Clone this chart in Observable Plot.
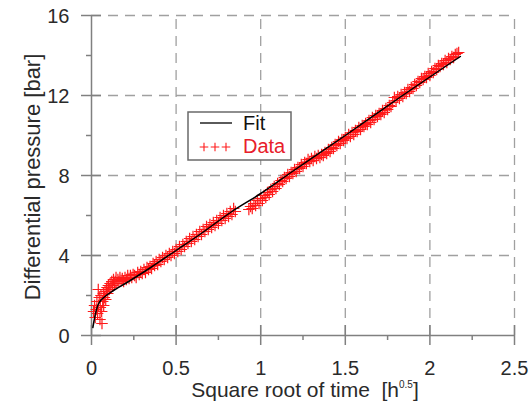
<!DOCTYPE html>
<html>
<head>
<meta charset="utf-8">
<script src="https://cdn.jsdelivr.net/npm/d3@7"></script>
<script src="https://cdn.jsdelivr.net/npm/@observablehq/plot@0.6"></script>
<style>
  html, body { margin: 0; padding: 0; background: #fff; }
  #chart svg { display: block; font-family: "Liberation Sans", Arial, sans-serif; }
</style>
</head>
<body>
<div id="chart"></div>
<script>
// ---- Data ----
const fitX = [0.008, 0.02, 0.035, 0.05, 0.08, 0.13, 0.2, 0.35, 0.5, 0.64, 0.83, 1.0, 1.17, 1.5, 1.83, 2.18];
const fitY = [0.4, 0.95, 1.45, 1.7, 1.95, 2.25, 2.6, 3.4, 4.25, 5.05, 6.2, 7.1, 8.1, 10.0, 11.95, 13.95];

const dataX = [
  0.012,0.018,0.022,0.028,0.032,0.036,0.04,0.042,0.046,0.05,0.052,0.056,0.06,0.062,0.066,0.07,0.072,0.076,0.08,0.084,0.088,
  0.092,0.096,0.1,0.105,0.11,0.115,0.12,0.125,0.13,0.135,0.14,0.145,0.15,0.156,0.162,0.168,0.175,0.182,0.19,0.198,0.206,0.214,0.222,0.23,0.238,0.246,
  0.255,0.264,0.273,0.282,0.291,0.3,0.31,0.319,0.328,0.337,0.346,0.355,0.364,0.373,0.382,0.391,0.4,0.41,0.42,0.43,0.44,0.45,0.46,0.47,0.48,0.49,0.5,
  0.51,0.52,0.53,0.54,0.55,0.56,0.57,0.58,0.59,0.6,0.61,0.62,0.63,0.64,0.65,0.66,0.67,0.68,0.69,0.7,0.71,0.72,0.73,0.74,0.75,0.76,0.77,0.78,0.79,0.8,0.81,0.82,0.83,0.84,0.85,
  0.93,0.94,0.95,0.96,0.97,0.98,0.99,1.0,1.01,1.02,1.03,1.04,1.05,1.06,1.07,1.08,1.09,1.1,
  1.11,1.12,1.13,1.14,1.15,1.16,1.17,1.18,1.19,1.2,1.21,1.22,1.23,1.24,1.25,1.26,1.27,1.28,1.29,1.3,1.31,1.32,1.33,1.34,1.35,
  1.36,1.37,1.38,1.39,1.4,1.41,1.42,1.43,1.44,1.45,1.46,1.47,1.48,1.49,1.5,1.51,1.52,1.53,1.54,1.55,1.56,1.57,1.58,1.59,1.6,1.61,1.62,1.63,1.64,1.65,
  1.66,1.67,1.68,1.69,1.7,1.71,1.72,1.73,1.74,1.75,1.76,1.77,1.78,1.79,1.8,1.81,1.82,1.83,1.84,1.85,1.86,1.87,1.88,1.89,1.9,1.91,1.92,1.93,1.94,1.95,1.96,1.97,1.98,1.99,2.0,2.01,2.02,2.03,2.04,2.05,2.06,2.07,2.08,2.09,2.1,2.11,2.12,2.13,2.14,2.15,2.16,2.17
];
const dataY = [
  1.2,1.5,0.9,1.3,1.7,1.1,2.3,1.5,1.9,0.8,1.4,2.0,1.2,0.6,1.7,2.1,1.5,1.9,2.2,1.8,2.3,
  2.4,2.1,2.5,2.3,2.6,2.4,2.7,2.5,2.8,2.6,2.7,2.9,2.6,2.8,2.7,2.9,2.75,2.85,2.7,2.9,2.8,3.0,2.85,3.0,2.9,3.05,
  3.0,2.9,3.15,3.05,3.2,3.1,3.3,3.15,3.4,3.3,3.45,3.35,3.6,3.5,3.7,3.55,3.8,3.7,3.9,3.8,4.0,3.9,4.1,4.0,4.2,4.1,4.3,
  4.2,4.45,4.3,4.55,4.45,4.7,4.6,4.85,4.7,4.95,4.8,5.05,4.95,5.2,5.05,5.3,5.2,5.45,5.3,5.55,5.4,5.65,5.5,5.75,5.6,5.9,5.75,6.0,5.85,6.1,5.95,6.2,6.05,6.35,6.2,
  6.3,6.45,6.35,6.6,6.5,6.75,6.6,6.85,6.75,7.0,6.9,7.15,7.05,7.3,7.2,7.45,7.35,7.6,
  7.55,7.75,7.7,7.9,7.85,8.05,7.95,8.15,8.1,8.3,8.2,8.4,8.35,8.55,8.45,8.65,8.6,8.8,8.7,8.85,8.75,8.95,8.85,9.0,8.9,
  9.05,9.0,9.15,9.1,9.3,9.2,9.4,9.35,9.55,9.5,9.7,9.6,9.8,9.75,9.9,9.85,10.05,9.95,10.15,10.05,10.25,10.2,10.4,10.3,10.5,10.45,10.6,10.55,10.75,10.65,
  10.9,10.8,11.0,10.95,11.1,11.05,11.25,11.15,11.35,11.3,11.5,11.45,11.65,11.9,11.75,11.95,11.85,12.05,11.95,12.15,12.1,12.3,12.2,12.4,12.35,12.55,12.5,12.7,12.65,12.85,12.8,12.95,12.9,13.1,13.0,13.2,13.15,13.35,13.3,13.5,13.45,13.6,13.55,13.75,13.65,13.85,13.8,13.95,13.9,14.05,14.1,14.15
];

const xMajor = [0, 0.5, 1, 1.5, 2, 2.5];
const xMajorLabels = ["0", "0.5", "1", "1.5", "2", "2.5"];
const xMinor = [0.25, 0.75, 1.25, 1.75, 2.25];
const yMajor = [0, 4, 8, 12, 16];
const yMajorLabels = ["0", "4", "8", "12", "16"];
const yMinor = [2, 6, 10, 14];
const xGrid = [0.5, 1, 1.5, 2, 2.5];
const yGrid = [4, 8, 12, 16];

const xLabel = "Square root of time  [h";
const xLabelSup = "0.5";
const yLabel = "Differential pressure [bar]";
const legendFit = "Fit";
const legendData = "Data";

const fit = fitX.map((x, i) => ({x, y: fitY[i]}));
const pts = dataX.map((x, i) => ({x, y: dataY[i]}));

const axisColor = "#808080";
const gridColor = "#a0a0a0";
const textColor = "#2a2a2a";
const red = "#ff1a1a";

const chart = Plot.plot({
  width: 532,
  height: 406,
  marginLeft: 91,
  marginRight: 18,
  marginTop: 15,
  marginBottom: 71,
  style: {fontFamily: "Liberation Sans, Arial, sans-serif", background: "#fff"},
  x: {domain: [0, 2.5], axis: null},
  y: {domain: [0, 16], axis: null},
  marks: [
    Plot.ruleY(yGrid, {x1: 0, x2: 2.5, stroke: gridColor, strokeWidth: 1.3, strokeDasharray: "10,7"}),
    Plot.ruleX(xGrid, {y1: 0, y2: 16, stroke: gridColor, strokeWidth: 1.3, strokeDasharray: "10,7"}),
    Plot.ruleX([0], {y1: 0, y2: 16, stroke: axisColor, strokeWidth: 1.5}),
    Plot.ruleY([0], {x1: 0, x2: 2.5, stroke: axisColor, strokeWidth: 1.5}),
    Plot.ruleX(xMajor, {y1: 0, y2: 0, insetTop: -10, insetBottom: -10, stroke: axisColor, strokeWidth: 1.5}),
    Plot.ruleX(xMinor, {y1: 0, y2: 0, insetTop: 0, insetBottom: -5, stroke: axisColor, strokeWidth: 1.5}),
    Plot.ruleY(yMajor, {x1: 0, x2: 0, insetLeft: -10, insetRight: -10, stroke: axisColor, strokeWidth: 1.5}),
    Plot.ruleY(yMinor, {x1: 0, x2: 0, insetLeft: -5, insetRight: 0, stroke: axisColor, strokeWidth: 1.5}),
    Plot.text(xMajor, {x: d => d, y: 0, dy: 33, text: (d, i) => xMajorLabels[i], fontSize: 20, fill: textColor}),
    Plot.text(yMajor, {x: 0, y: d => d, dx: -22, dy: 1, text: (d, i) => yMajorLabels[i], textAnchor: "end", fontSize: 20, fill: textColor}),
    Plot.dot(pts, {x: "x", y: "y", symbol: "plus", r: 3.8, stroke: red, strokeWidth: 1.2}),
    Plot.line(fit, {x: "x", y: "y", stroke: "#000", strokeWidth: 1.5, curve: "monotone-x"})
  ]
});

document.getElementById("chart").appendChild(chart);

// Axis titles and legend
const svg = d3.select(chart);
const xt = svg.append("text")
  .attr("x", 305).attr("y", 397)
  .attr("text-anchor", "middle")
  .attr("font-size", 21)
  .attr("fill", textColor)
  .style("white-space", "pre");
xt.append("tspan").text(xLabel);
xt.append("tspan").attr("dy", -9).attr("font-size", 10).text(xLabelSup);
xt.append("tspan").attr("dy", 9).text("]");

svg.append("text")
  .attr("transform", "translate(40,177) rotate(-90)")
  .attr("text-anchor", "middle")
  .attr("font-size", 22)
  .attr("fill", textColor)
  .text(yLabel);

const lg = svg.append("g").attr("text-anchor", "start");
lg.append("rect").attr("x", 188).attr("y", 112).attr("width", 103).attr("height", 48)
  .attr("fill", "#fff").attr("stroke", "#6a6a6a").attr("stroke-width", 1.5);
lg.append("line").attr("x1", 200).attr("x2", 232).attr("y1", 123).attr("y2", 123)
  .attr("stroke", "#000").attr("stroke-width", 1.3);
lg.append("text").attr("x", 243).attr("y", 130).attr("font-size", 20).attr("fill", "#111").text(legendFit);
[204, 215, 226].forEach(cx => {
  lg.append("path").attr("d", d3.symbol(d3.symbolPlus, 26)()).attr("transform", `translate(${cx},147)`)
    .attr("fill", "none").attr("stroke", red).attr("stroke-width", 1.1);
});
lg.append("text").attr("x", 243).attr("y", 153).attr("font-size", 20).attr("fill", "#e8202a").text(legendData);
</script>
</body>
</html>
